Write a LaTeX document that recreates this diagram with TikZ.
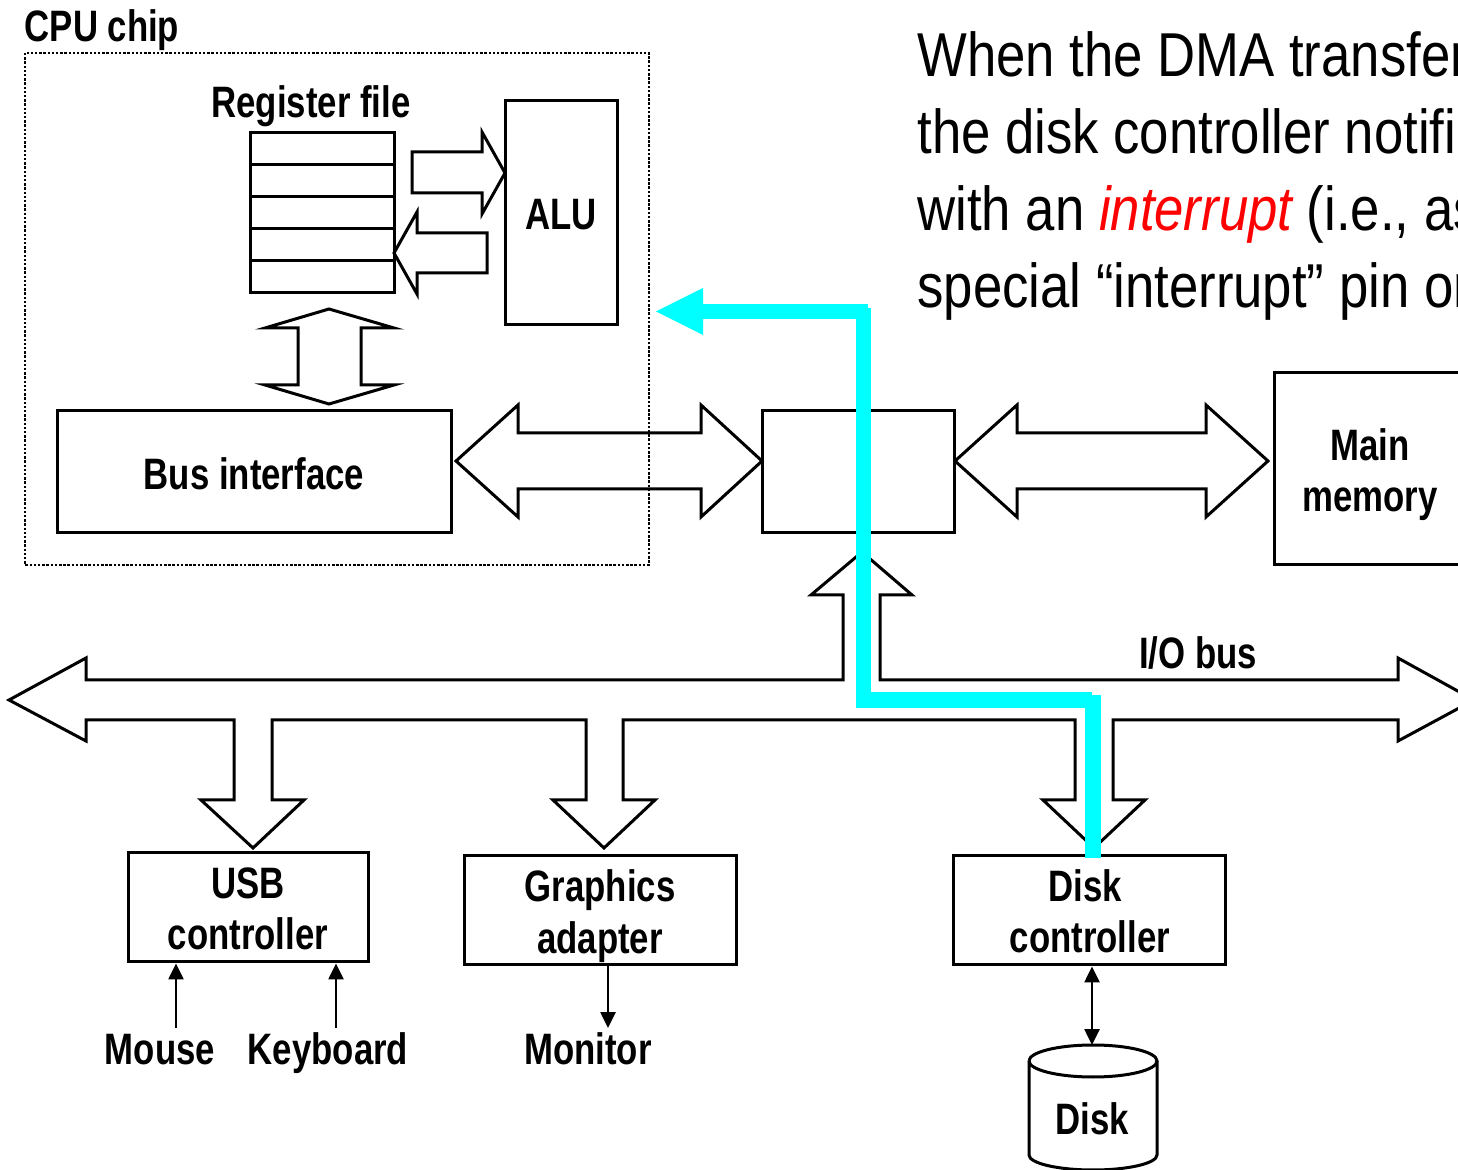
\documentclass[tikz,border=0pt]{standalone}
\usepackage{fontspec}
\setmainfont{Liberation Sans}
\newfontfamily\lblfont[FakeStretch=0.79]{Liberation Sans Bold}
\newfontfamily\txtfont[FakeStretch=0.85,ItalicFont={Liberation Sans Italic}]{Liberation Sans}
\usetikzlibrary{arrows.meta}
\definecolor{pathcyan}{RGB}{0,255,255}
\tikzset{
  lbl/.style={font=\lblfont\fontsize{22}{26}\selectfont,anchor=base,inner sep=0pt},
  boxnode/.style={draw=black,line width=1.5pt,inner sep=0pt},
  blockarrow/.style={draw=black,line width=1.5pt,line join=miter},
  smallarrow/.style={draw=black,line width=1.3pt,-{Triangle[length=8pt,width=7.5pt]}},
  smalldouble/.style={draw=black,line width=1.3pt,{Triangle[length=8pt,width=7.5pt]}-{Triangle[length=8pt,width=7.5pt]}},
  bodytext/.style={font=\txtfont\fontsize{31}{36}\selectfont,anchor=base west,inner sep=0pt},
  dma/.style={draw=pathcyan,line width=7.8pt}
}
\begin{document}
\begin{tikzpicture}[x=0.5pt,y=-0.5pt]
\useasboundingbox (0,0) rectangle (1458,1170);
% CPU chip
\draw[line width=1.25pt,dash pattern=on 1.25pt off 0.85pt] (25,53) rectangle (649,565);
\node[lbl] (cpulabel) at (102,42) {CPU chip};
\node[lbl] (reglabel) at (311,118) {Register file};
% register file
\draw[line width=1.5pt] (250,133) rectangle (394,293);
\foreach \yy in {165,197,229,261} \draw[line width=1.5pt] (250,\yy) -- (394,\yy);
\node[boxnode,minimum width=56pt,minimum height=112pt] (alu) at (561,213) {};
\node[lbl] (alulabel) at (561,230) {ALU};
\node[boxnode,minimum width=197pt,minimum height=61pt] (busif) at (254,472) {};
\node[lbl] (buslabel) at (254,490) {Bus interface};
\node[boxnode,minimum width=96pt,minimum height=61pt] (bridge) at (858,472) {};
\draw[line width=1.5pt] (1470,373) -- (1274,373) -- (1274,565) -- (1470,565);
\node[lbl] (mainlabel) at (1370,461) {Main};
\node[lbl] (memlabel) at (1370,512) {memory};
% block arrows
\draw[blockarrow] (412,152) -- (482,152) -- (482,132) -- (505,173) -- (482,214) -- (482,193) -- (412,193) -- cycle;
\draw[blockarrow] (394,253) -- (417,212) -- (417,233) -- (487,233) -- (487,273) -- (417,273) -- (417,294) -- cycle;
\draw[blockarrow] (329,309) -- (394,328) -- (361,328) -- (361,385) -- (394,385) -- (329,404) -- (265,385) -- (298,385) -- (298,328) -- (265,328) -- cycle;
\draw[blockarrow] (456,461) -- (518,405) -- (518,433) -- (701,433) -- (701,405) -- (762,461) -- (701,517) -- (701,489) -- (518,489) -- (518,517) -- cycle;
\draw[blockarrow] (955,461) -- (1017,405) -- (1017,433) -- (1206,433) -- (1206,405) -- (1268,461) -- (1206,517) -- (1206,489) -- (1017,489) -- (1017,517) -- cycle;
% I/O bus
\draw[blockarrow] (9,700) -- (86,658) -- (86,680) -- (843,680) -- (843,595) -- (811,595) -- (862,552) -- (912,595) -- (880,595) -- (880,680) -- (1398,680) -- (1398,658) -- (1474,700) -- (1398,741) -- (1398,720) -- (1113,720) -- (1113,800) -- (1145,800) -- (1094,848) -- (1043,800) -- (1075,800) -- (1075,720) -- (623,720) -- (623,800) -- (655,800) -- (604,848) -- (553,800) -- (586,800) -- (586,720) -- (272,720) -- (272,800) -- (304,800) -- (253,848) -- (201,800) -- (234,800) -- (234,720) -- (86,720) -- (86,741) -- cycle;
\node[lbl] (iobus) at (1198,669) {I/O bus};
% controllers
\node[boxnode,minimum width=120pt,minimum height=54.5pt] (usb) at (248,907.5) {};
\node[lbl] (usblabel) at (248,899) {USB};
\node[lbl] (usblabelb) at (248,950) {controller};
\node[boxnode,minimum width=136pt,minimum height=54.5pt] (gfx) at (600,910.5) {};
\node[lbl] (gfxlabel) at (600,902) {Graphics};
\node[lbl] (gfxlabelb) at (600,954) {adapter};
\node[boxnode,minimum width=136pt,minimum height=54.5pt] (dctl) at (1089,910.5) {};
\node[lbl] (dctllabel) at (1085,902) {Disk};
\node[lbl] (dctllabelb) at (1090,953) {controller};
\node[lbl] (mouse) at (160,1065) {Mouse};
\node[lbl] (keyboard) at (328,1065) {Keyboard};
\node[lbl] (monitor) at (588,1065) {Monitor};
% disk cylinder
\draw[line width=1.5pt] (1029,1061) arc[start angle=180,end angle=360,x radius=64,y radius=-16] arc[start angle=0,end angle=180,x radius=64,y radius=-16];
\draw[line width=1.5pt] (1029,1061) -- (1029,1155) arc[start angle=180,end angle=360,x radius=64,y radius=-15] -- (1157,1061);
\node[lbl] (disk) at (1092,1134) {Disk};
\coordinate (disktop) at (1092,1045);
\coordinate (mousetop) at (176,1028);
\coordinate (keytop) at (336,1028);
\coordinate (montop) at (608,1028);
\draw[smallarrow] (mousetop) -- (mousetop |- usb.south);
\draw[smallarrow] (keytop) -- (keytop |- usb.south);
\draw[smallarrow] (montop |- gfx.south) -- (montop);
\draw[smalldouble] (disktop |- dctl.south) -- (disktop);
% DMA path
\coordinate (a0) at (1093,858);
\coordinate (a1) at (1093,695);
\coordinate (b0) at (1092,700);
\coordinate (b1) at (856,700);
\coordinate (c0) at (863.5,708);
\coordinate (c1) at (863.5,308);
\coordinate (e0) at (868,311.5);
\coordinate (e1) at (700,311.5);
\draw[dma] (a0) -- (a1);
\draw[dma] (b0) -- (b1);
\draw[dma] (c0) -- (c1);
\draw[dma] (e0) -- (e1);
\fill[pathcyan] (656,311.5) -- (703,288) -- (703,335) -- cycle;
% body text
\node[bodytext] (t1) at (917,77) {When the DMA transfer};
\node[bodytext] (t2) at (917,154) {the disk controller notifie};
\node[bodytext] (t3) at (917,231) {with an \textcolor{red}{\itshape interrupt} (i.e., as};
\node[bodytext] (t4) at (917,308) {special “interrupt” pin on};
\end{tikzpicture}
\end{document}
